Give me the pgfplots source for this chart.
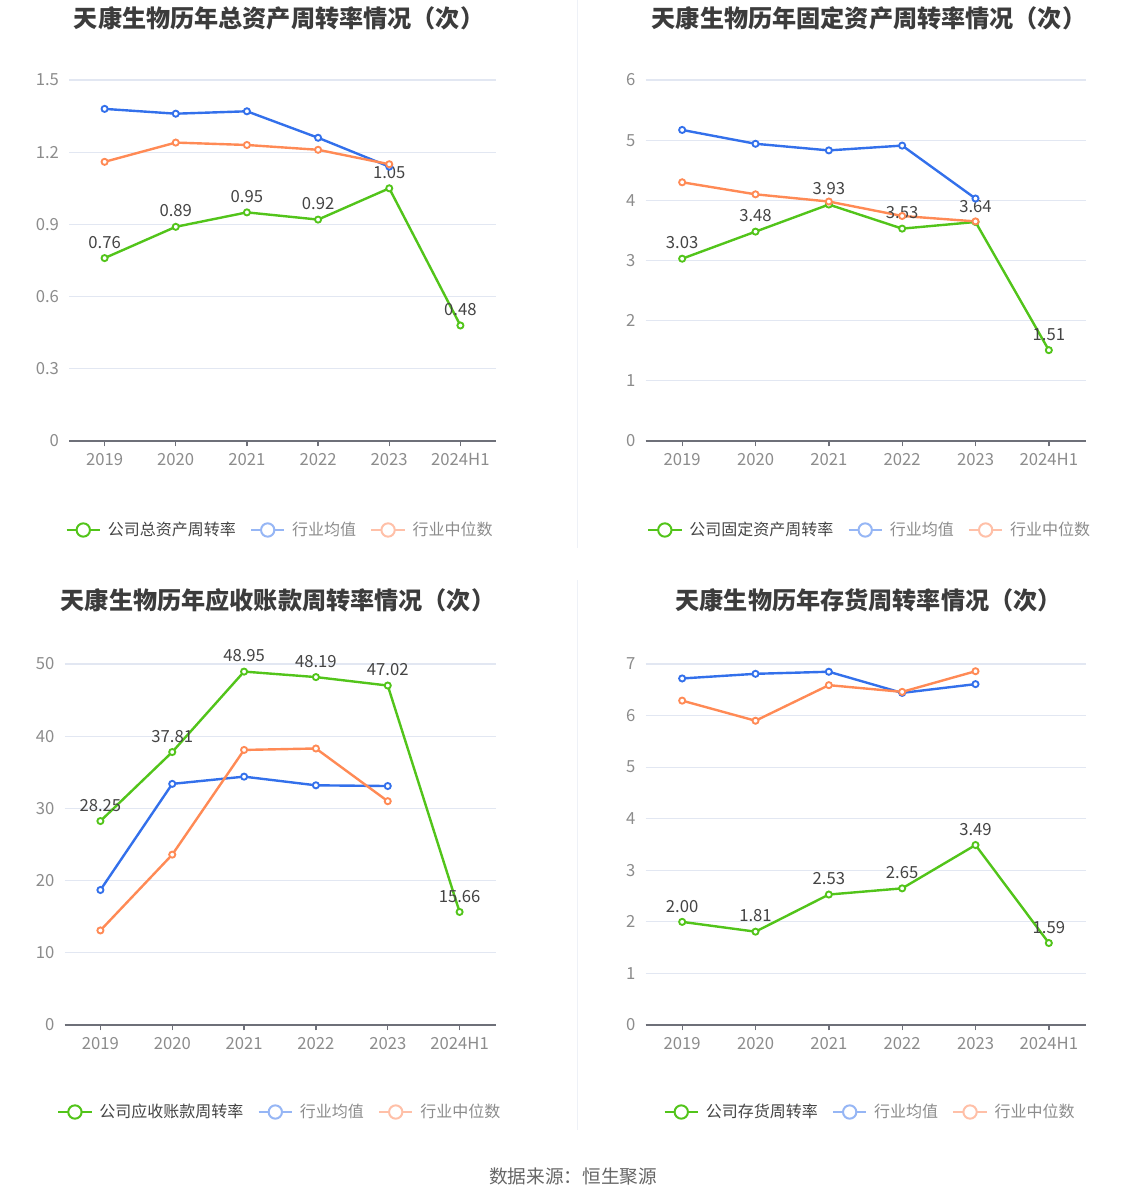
\documentclass[border=0pt]{standalone}
\usepackage{fontspec}
\setmainfont{Noto Sans CJK SC}
\usepackage{pgfplots}
\pgfplotsset{compat=1.18}

\definecolor{cgreen}{RGB}{82,196,26}
\definecolor{cblue}{RGB}{51,112,235}
\definecolor{corange}{RGB}{255,138,85}
\definecolor{cblueL}{RGB}{150,182,245}
\definecolor{corangeL}{RGB}{255,192,168}
\definecolor{gridc}{RGB}{226,231,242}
\definecolor{axisc}{RGB}{110,112,121}
\definecolor{tickc}{RGB}{140,140,140}
\definecolor{titlec}{RGB}{60,60,60}
\definecolor{labc}{RGB}{68,68,68}
\definecolor{srcc}{RGB}{102,102,102}

\pgfplotsset{
 panel/.style={
   scale only axis, height=270.75pt,
   xmin=-0.5, xmax=5.5, ymin=0,
   xtick={0,...,5}, xticklabels={2019,2020,2021,2022,2023,2024H1},
   axis x line*=bottom, axis y line*=left,
   x axis line style={draw=axisc, line width=1.2pt, -},
   y axis line style={draw=none},
   ytick style={draw=none},
   xtick style={draw=axisc, line width=1pt},
   major tick length=4pt, tick align=outside,
   ymajorgrids, grid style={draw=gridc, line width=0.9pt},
   tick label style={font=\fontsize{12.5}{13}\selectfont, text=tickc},
   /pgf/number format/assume math mode=true,
   xticklabel style={yshift=-1.5pt},
   clip=false,
   legend columns=3,
   legend style={draw=none, fill=none, anchor=center, font=\fontsize{12}{14}\selectfont,
     /tikz/every odd column/.append style={column sep=3pt},
     /tikz/every even column/.append style={column sep=8.5pt}},
   legend cell align=left,
 },
 ser/.style={line width=1.8pt, color=#1, mark=*, mark size=2.3pt,
   mark options={fill=white, line width=1.4pt, draw=#1, solid}},
 leg/.style={legend image code/.code={
   \draw[line width=1.8pt,draw=#1](0pt,0pt)--(25pt,0pt);
   \draw[line width=1.5pt,draw=#1,fill=white](12.5pt,0pt) circle (5pt);}},
 lab/.style={nodes near coords, point meta=explicit symbolic,
   every node near coord/.append style={font=\fontsize{12.5}{13}\selectfont,
   text=labc, inner sep=0pt, anchor=south, yshift=6.5pt}},
}

\begin{document}
\begin{tikzpicture}
\useasboundingbox (0pt,0pt) rectangle (860.25pt,-901.5pt);

% dividers
\draw[draw=gridc!60, line width=0.75pt] (432.75pt,0pt) -- (432.75pt,-411pt);
\draw[draw=gridc!60, line width=0.75pt] (432.75pt,-435pt) -- (432.75pt,-847.5pt);

% titles
\node[font=\bfseries\fontsize{18.1}{20}\selectfont, text=titlec] at (209.25pt,-13.5pt) {天康生物历年总资产周转率情况（次）};
\node[font=\bfseries\fontsize{18.1}{20}\selectfont, text=titlec] at (651.75pt,-13.5pt) {天康生物历年固定资产周转率情况（次）};
\node[font=\bfseries\fontsize{18.1}{20}\selectfont, text=titlec] at (208.5pt,-450pt) {天康生物历年应收账款周转率情况（次）};
\node[font=\bfseries\fontsize{18.1}{20}\selectfont, text=titlec] at (651.5pt,-450pt) {天康生物历年存货周转率情况（次）};

% Panel 1
\begin{axis}[panel, at={(51.75pt,-330.75pt)}, anchor=south west, width=320.25pt,
  ymax=1.5, ytick={0,0.3,0.6,0.9,1.2,1.5}, yticklabels={0,0.3,0.6,0.9,1.2,1.5},
  legend style={at={(0.495,-0.2465)}}]
\addplot[ser=cgreen, leg=cgreen, lab] coordinates {(0,0.76)[0.76] (1,0.89)[0.89] (2,0.95)[0.95] (3,0.92)[0.92] (4,1.05)[1.05] (5,0.48)[0.48]};
\addlegendentry[text=labc]{公司总资产周转率}
\addplot[ser=cblue, leg=cblueL] coordinates {(0,1.38) (1,1.36) (2,1.37) (3,1.26) (4,1.14)};
\addlegendentry[text=tickc]{行业均值}
\addplot[ser=corange, leg=corangeL] coordinates {(0,1.16) (1,1.24) (2,1.23) (3,1.21) (4,1.15)};
\addlegendentry[text=tickc]{行业中位数}
\end{axis}

% Panel 2
\begin{axis}[panel, at={(484.125pt,-330.75pt)}, anchor=south west, width=330pt,
  ymax=6, ytick={0,1,2,3,4,5,6}, yticklabels={0,1,2,3,4,5,6},
  legend style={at={(0.51,-0.2465)}}]
\addplot[ser=cgreen, leg=cgreen, lab] coordinates {(0,3.03)[3.03] (1,3.48)[3.48] (2,3.93)[3.93] (3,3.53)[3.53] (4,3.64)[3.64] (5,1.51)[1.51]};
\addlegendentry[text=labc]{公司固定资产周转率}
\addplot[ser=cblue, leg=cblueL] coordinates {(0,5.17) (1,4.94) (2,4.83) (3,4.91) (4,4.03)};
\addlegendentry[text=tickc]{行业均值}
\addplot[ser=corange, leg=corangeL] coordinates {(0,4.30) (1,4.10) (2,3.98) (3,3.74) (4,3.65)};
\addlegendentry[text=tickc]{行业中位数}
\end{axis}

% Panel 3
\begin{axis}[panel, at={(48.375pt,-768.75pt)}, anchor=south west, width=323.25pt,
  ymax=50, ytick={0,10,20,30,40,50}, yticklabels={0,10,20,30,40,50},
  legend style={at={(0.5,-0.241)}}]
\addplot[ser=cgreen, leg=cgreen, lab] coordinates {(0,28.25)[28.25] (1,37.81)[37.81] (2,48.95)[48.95] (3,48.19)[48.19] (4,47.02)[47.02] (5,15.66)[15.66]};
\addlegendentry[text=labc]{公司应收账款周转率}
\addplot[ser=cblue, leg=cblueL] coordinates {(0,18.7) (1,33.4) (2,34.4) (3,33.2) (4,33.1)};
\addlegendentry[text=tickc]{行业均值}
\addplot[ser=corange, leg=corangeL] coordinates {(0,13.1) (1,23.6) (2,38.1) (3,38.3) (4,31.0)};
\addlegendentry[text=tickc]{行业中位数}
\end{axis}

% Panel 4
\begin{axis}[panel, at={(484.125pt,-768.75pt)}, anchor=south west, width=330pt,
  ymax=7, ytick={0,1,2,3,4,5,6,7}, yticklabels={0,1,2,3,4,5,6,7},
  legend style={at={(0.511,-0.241)}}]
\addplot[ser=cgreen, leg=cgreen, lab] coordinates {(0,2.00)[2.00] (1,1.81)[1.81] (2,2.53)[2.53] (3,2.65)[2.65] (4,3.49)[3.49] (5,1.59)[1.59]};
\addlegendentry[text=labc]{公司存货周转率}
\addplot[ser=cblue, leg=cblueL] coordinates {(0,6.72) (1,6.81) (2,6.85) (3,6.44) (4,6.61)};
\addlegendentry[text=tickc]{行业均值}
\addplot[ser=corange, leg=corangeL] coordinates {(0,6.29) (1,5.90) (2,6.59) (3,6.46) (4,6.86)};
\addlegendentry[text=tickc]{行业中位数}
\end{axis}

% source
\node[font=\fontsize{14}{16}\selectfont, text=srcc] at (429.75pt,-882pt) {数据来源：恒生聚源};
\end{tikzpicture}
\end{document}
